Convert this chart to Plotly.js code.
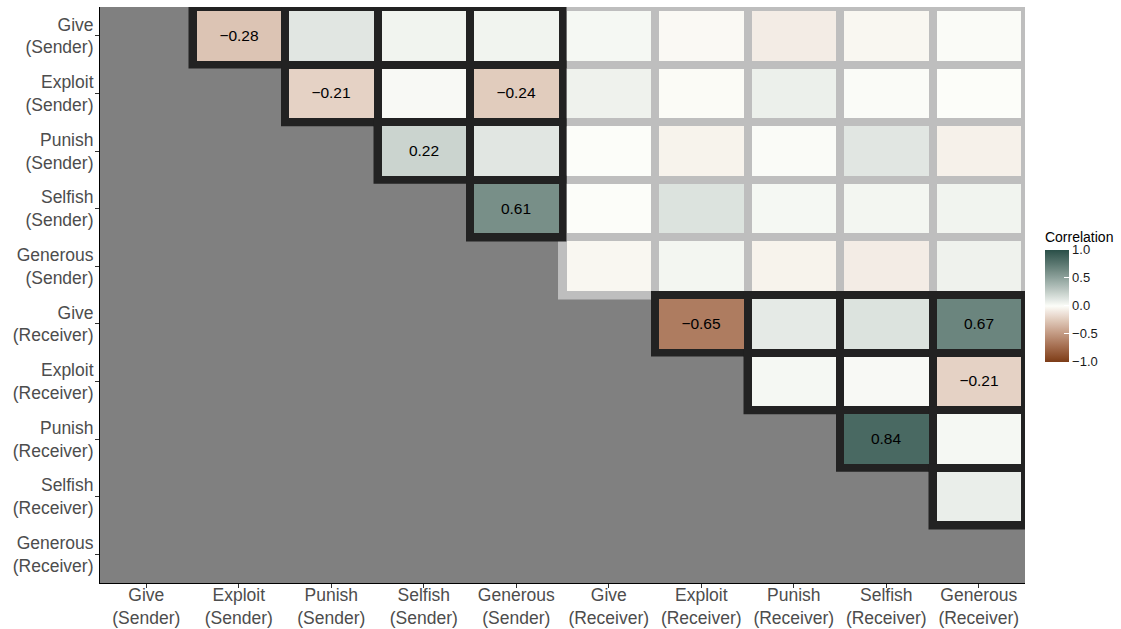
<!DOCTYPE html>
<html>
<head>
<meta charset="utf-8">
<script src="https://cdn.plot.ly/plotly-3.0.1.min.js"></script>
<style>
html,body{margin:0;padding:0;background:#fff;}
#chart{width:1121px;height:629px;}
</style>
</head>
<body>
<div id="chart"></div>
<script>
// ---- data ----
const variables = ["Give", "Exploit", "Punish", "Selfish", "Generous",
                   "Give", "Exploit", "Punish", "Selfish", "Generous"];
const roles = ["Sender", "Sender", "Sender", "Sender", "Sender",
               "Receiver", "Receiver", "Receiver", "Receiver", "Receiver"];
// upper triangle correlations, row i lists columns i+1 .. 9
const rowGiveS     = [-0.28, 0.12, 0.05, 0.05, 0.03, -0.02, -0.08, -0.03, 0.01];
const rowExploitS  = [-0.21, 0.02, -0.24, 0.06, -0.01, 0.07, 0.01, 0.00];
const rowPunishS   = [0.22, 0.12, 0.00, -0.05, 0.01, 0.12, -0.06];
const rowSelfishS  = [0.61, 0.00, 0.14, 0.03, 0.04, 0.05];
const rowGenerousS = [-0.03, 0.04, -0.05, -0.08, 0.06];
const rowGiveR     = [-0.65, 0.10, 0.14, 0.67];
const rowExploitR  = [0.03, 0.02, -0.21];
const rowPunishR   = [0.84, 0.03];
const rowSelfishR  = [0.08];
const labelThreshold = 0.2;

const rows = [rowGiveS, rowExploitS, rowPunishS, rowSelfishS, rowGenerousS,
              rowGiveR, rowExploitR, rowPunishR, rowSelfishR, []];
const n = variables.length;
const tickLabels = variables.map((v, i) => v + "<br>(" + roles[i] + ")");
const idx = variables.map((v, i) => i);

// ---- matrix ----
const z = [], txt = [];
for (let i = 0; i < n; i++) {
  const zr = [], tr = [];
  for (let j = 0; j < n; j++) {
    if (j > i) {
      const v = rows[i][j - i - 1];
      zr.push(v);
      tr.push(Math.abs(v) >= labelThreshold ? v.toFixed(2).replace("-", "\u2212") : "");
    } else { zr.push(null); tr.push(""); }
  }
  z.push(zr); txt.push(tr);
}

// ---- colour scale interpolated in Lab (like ggplot gradient2) ----
function hex2rgb(h){return [1,3,5].map(k=>parseInt(h.substr(k,2),16));}
function lin(c){c/=255;return c<=0.04045?c/12.92:Math.pow((c+0.055)/1.055,2.4);}
function unlin(c){c=c<=0.0031308?12.92*c:1.055*Math.pow(c,1/2.4)-0.055;return Math.max(0,Math.min(255,Math.round(c*255)));}
function rgb2lab(rgb){const [r,g,b]=rgb.map(lin);
  let X=(0.4124*r+0.3576*g+0.1805*b)/0.95047,Y=(0.2126*r+0.7152*g+0.0722*b),Z=(0.0193*r+0.1192*g+0.9505*b)/1.08883;
  const f=t=>t>0.008856?Math.cbrt(t):7.787*t+16/116;
  const fx=f(X),fy=f(Y),fz=f(Z);return [116*fy-16,500*(fx-fy),200*(fy-fz)];}
function lab2rgb(lab){const [L,a,b]=lab;const fy=(L+16)/116,fx=fy+a/500,fz=fy-b/200;
  const fi=t=>t*t*t>0.008856?t*t*t:(t-16/116)/7.787;
  const X=fi(fx)*0.95047,Y=fi(fy),Z=fi(fz)*1.08883;
  const r=3.2406*X-1.5372*Y-0.4986*Z,g=-0.9689*X+1.8758*Y+0.0415*Z,bb=0.0557*X-0.2040*Y+1.0570*Z;
  return "rgb("+unlin(r)+","+unlin(g)+","+unlin(bb)+")";}
const lowC = rgb2lab(hex2rgb("#7d3c17")), midC = rgb2lab(hex2rgb("#fcfdf9")), highC = rgb2lab(hex2rgb("#2a4f48"));
const cs = [];
const steps = 20;
for (let k = 0; k <= steps; k++) {
  const t = k / steps;
  cs.push([t * 0.5, lab2rgb(lowC.map((c, q) => c + (midC[q] - c) * t))]);
}
for (let k = 1; k <= steps; k++) {
  const t = k / steps;
  cs.push([0.5 + t * 0.5, lab2rgb(midC.map((c, q) => c + (highC[q] - c) * t))]);
}

// ---- geometry used for the tile borders ----
const W = 1121, H = 629;
const margin = {l: 100, r: 94, t: 7, b: 46};
const pxPerX = (W - margin.l - margin.r) / n;
const pxPerY = (H - margin.t - margin.b) / n;
const gap = 8;

const shapes = [];
const addBorders = (cross) => {
  const half = cross ? 4.5 : 4;
  const hx = half / pxPerX, hy = half / pxPerY;
  for (let i = 0; i < n; i++) for (let j = i + 1; j < n; j++) {
    const isCross = roles[i] !== roles[j];
    if (isCross !== cross) continue;
    shapes.push({type: "rect", xref: "x", yref: "y", layer: "below",
      x0: Math.max(-0.5, j - 0.5 - hx), x1: Math.min(n - 0.5, j + 0.5 + hx),
      y0: Math.max(-0.5, i - 0.5 - hy), y1: Math.min(n - 0.5, i + 0.5 + hy),
      line: {width: 0},
      fillcolor: cross ? "#bebebe" : "#222222"});
  }
};
addBorders(true);
addBorders(false);

const fontFam = "Liberation Sans, Arial, sans-serif";
const trace = {
  type: "heatmap", x: idx, y: idx, z: z, text: txt,
  xgap: gap, ygap: gap,
  texttemplate: "%{text}", textfont: {family: fontFam, size: 15.5, color: "#000"},
  colorscale: cs, zmin: -1, zmax: 1, hoverongaps: false,
  colorbar: {
    title: {text: "Correlation", side: "top", font: {family: fontFam, size: 14, color: "#000"}},
    lenmode: "pixels", len: 133, thickness: 24, thicknessmode: "pixels",
    x: 1.0227, xanchor: "left", y: 0.5, yanchor: "middle",
    xpad: 0, ypad: 0, outlinewidth: 0,
    tickvals: [-1, -0.5, 0, 0.5, 1], ticktext: ["\u22121.0", "\u22120.5", "0.0", "0.5", "1.0"],
    ticks: "inside", ticklen: 5, tickcolor: "#ffffff", tickwidth: 1,
    tickfont: {family: fontFam, size: 13, color: "#1a1a1a"}
  }
};

const axisFont = {family: fontFam, size: 17.5, color: "#4d4d4d"};
const layout = {
  width: W, height: H,
  margin: Object.assign({pad: 0}, margin),
  paper_bgcolor: "#ffffff", plot_bgcolor: "#808080",
  xaxis: {range: [-0.5, n - 0.5], tickvals: idx, ticktext: tickLabels, tickfont: axisFont,
    showgrid: false, zeroline: false, showline: true, linecolor: "#000", linewidth: 1,
    ticks: "outside", ticklen: 4, tickcolor: "#333", fixedrange: true, ticklabelstandoff: -8},
  yaxis: {range: [n - 0.5, -0.5], tickvals: idx, ticktext: tickLabels, tickfont: axisFont,
    showgrid: false, zeroline: false, showline: true, linecolor: "#000", linewidth: 1,
    ticks: "outside", ticklen: 4, tickcolor: "#333", fixedrange: true, ticklabelstandoff: -2},
  shapes: shapes,
  showlegend: false
};
Plotly.newPlot("chart", [trace], layout, {displayModeBar: false, staticPlot: true});
</script>
</body>
</html>
